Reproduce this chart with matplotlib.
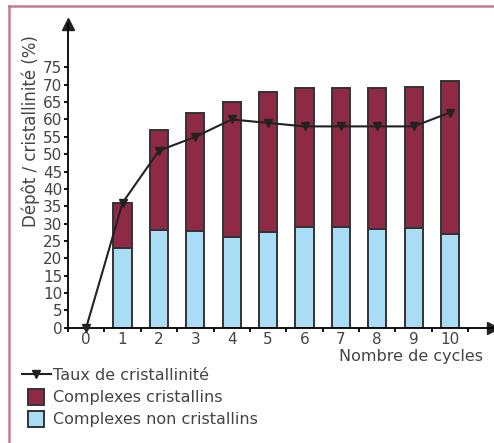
import matplotlib
matplotlib.use("Agg")
import matplotlib.pyplot as plt
from matplotlib.lines import Line2D
import numpy as np

cycles = [1, 2, 3, 4, 5, 6, 7, 8, 9, 10]
non_cristallins = [23, 28.2, 28, 26, 27.7, 29, 28.9, 28.5, 28.7, 27]
totaux = [36, 57, 62, 65, 68, 69, 69, 69, 69.3, 71.2]
taux_x = [0, 1, 2, 3, 4, 5, 6, 7, 8, 9, 10]
taux = [0, 36, 51, 55, 60, 59, 58, 58, 58, 58, 62]
cristallins = [t - n for t, n in zip(totaux, non_cristallins)]

red = "#8e2a45"
blue = "#a9ddf5"
edge = "#333333"
txt = "#444444"
plt.rcParams['font.family'] = ['DejaVu Sans']

fig = plt.figure(figsize=(4.94, 4.43), dpi=100)
ax = fig.add_axes([68 / 494, 1 - 327.7 / 443, (493 - 68) / 494, (327.7 - 24) / 443])

ax.bar(cycles, non_cristallins, width=0.5, color=blue, edgecolor=edge, linewidth=1.4, zorder=2)
ax.bar(cycles, cristallins, width=0.5, bottom=non_cristallins, color=red, edgecolor=edge,
       linewidth=1.4, zorder=2)
ax.plot(taux_x, taux, color="#222222", lw=1.5, marker="v", markersize=6, zorder=3, clip_on=False)

ax.set_xlim(-0.5, 11.18)
ax.set_ylim(0, 87.5)
ax.spines[["top", "right"]].set_visible(False)
ax.spines["left"].set_linewidth(1.3)
ax.spines["bottom"].set_linewidth(1.3)
ax.plot(1, 0, ">", color="#222222", markersize=8, transform=ax.transAxes, clip_on=False)
ax.plot(0, 1, "^", color="#222222", markersize=8, transform=ax.transAxes, clip_on=False)

ax.set_yticks(np.arange(0, 80, 5))
ax.set_xticks(taux_x)
ax.set_xticks(np.arange(-0.5, 11, 1), minor=True)
ax.tick_params(axis="x", which="major", length=0, labelsize=11, pad=3)
ax.tick_params(axis="x", which="minor", length=3, width=1.3)
ax.tick_params(axis="y", length=3, width=1.3, labelsize=11, pad=1)
for lab in ax.get_xticklabels() + ax.get_yticklabels():
    lab.set_color(txt)

fig.text(483 / 494, 1 - 356 / 443, "Nombre de cycles", ha="right", va="center",
         fontsize=11.5, color=txt)
fig.text(31 / 494, 1 - 131 / 443, "Dépôt / cristallinité (%)", rotation=90, ha="center",
         va="center", fontsize=12, color=txt)

handles = [
    Line2D([0], [0], color="#222222", lw=1.5, marker="v", markersize=6),
    Line2D([0], [0], linestyle="None", marker="s", markersize=11, markerfacecolor=red,
           markeredgecolor=edge, markeredgewidth=1.4),
    Line2D([0], [0], linestyle="None", marker="s", markersize=11, markerfacecolor=blue,
           markeredgecolor=edge, markeredgewidth=1.4),
]
labels = ["Taux de cristallinité", "Complexes cristallins", "Complexes non cristallins"]
fig.legend(handles, labels, loc="upper left", bbox_to_anchor=(22 / 494, 1 - 368 / 443),
           frameon=False, fontsize=11.5, handlelength=1.8, handletextpad=0.15,
           labelspacing=0.45, borderpad=0, borderaxespad=0, labelcolor=txt)

# pink frame
fig.add_artist(Line2D([9 / 494, 1], [1 - 6 / 443, 1 - 6 / 443], color="#c8788c", lw=1.8))
fig.add_artist(Line2D([9 / 494, 9 / 494], [0, 1 - 6 / 443], color="#c8788c", lw=1.8))

fig.savefig("out.png", dpi=100)
